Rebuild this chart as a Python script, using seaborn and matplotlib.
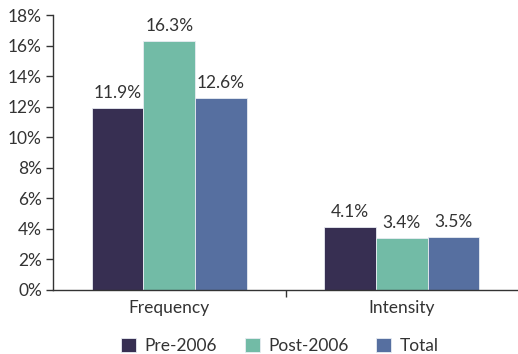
import matplotlib
matplotlib.use("Agg")
import matplotlib.pyplot as plt
import seaborn as sns
import pandas as pd

categories = ["Frequency", "Intensity"]
periods = ["Pre-2006", "Post-2006", "Total"]
pre_2006 = [11.9, 4.1]
post_2006 = [16.3, 3.4]
total = [12.6, 3.5]
y_ticks = [0, 2, 4, 6, 8, 10, 12, 14, 16, 18]

colors = ["#372F52", "#72BBA6", "#566FA0"]

sns.set_style("white")
plt.rcParams["font.family"] = ["Lato", "DejaVu Sans"]
text_color = "#333333"
fs = 12.5

rows = []
for period, vals in zip(periods, [pre_2006, post_2006, total]):
    for cat, v in zip(categories, vals):
        rows.append({"category": cat, "period": period, "value": v})
df = pd.DataFrame(rows)

fig = plt.figure(figsize=(5.18, 3.54), dpi=100)
ax = fig.add_axes([53 / 518, 1 - 290 / 354, 1 - 53 / 518, (290 - 15) / 354])

sns.barplot(data=df, x="category", y="value", hue="period", order=categories,
            hue_order=periods, palette=colors, width=0.667, ax=ax,
            edgecolor="#E8ECF2", linewidth=0.6, errorbar=None, saturation=1)

for container in ax.containers:
    ax.bar_label(container, labels=[f"{v:.1f}%" for v in container.datavalues],
                 padding=5, fontsize=fs, color=text_color)

ax.set_ylim(0, 18)
ax.set_xlim(-0.5, 1.5)
ax.set_yticks(y_ticks)
ax.set_yticklabels([f"{t}%" for t in y_ticks])
ax.set_xlabel("")
ax.set_ylabel("")

for side in ["top", "right"]:
    ax.spines[side].set_visible(False)
for side in ["left", "bottom"]:
    ax.spines[side].set_color("#333333")
    ax.spines[side].set_linewidth(1.0)

ax.tick_params(axis="y", which="both", left=True, length=5, width=1,
               color="#333333", labelsize=fs, labelcolor=text_color, pad=3)
ax.set_xticks([0.5], minor=True)
ax.tick_params(axis="x", which="major", bottom=False, labelsize=fs,
               labelcolor=text_color, pad=4)
ax.tick_params(axis="x", which="minor", bottom=True, length=5, width=1,
               color="#333333")

handles, labels = ax.get_legend_handles_labels()
ax.legend(handles, labels, loc="lower center", bbox_to_anchor=(0.5 - 0.012, -0.29),
          ncol=3, frameon=False, fontsize=fs, handlelength=0.85, handleheight=0.85,
          columnspacing=1.6, handletextpad=0.5, labelcolor=text_color)

fig.savefig("out.png", dpi=100)
